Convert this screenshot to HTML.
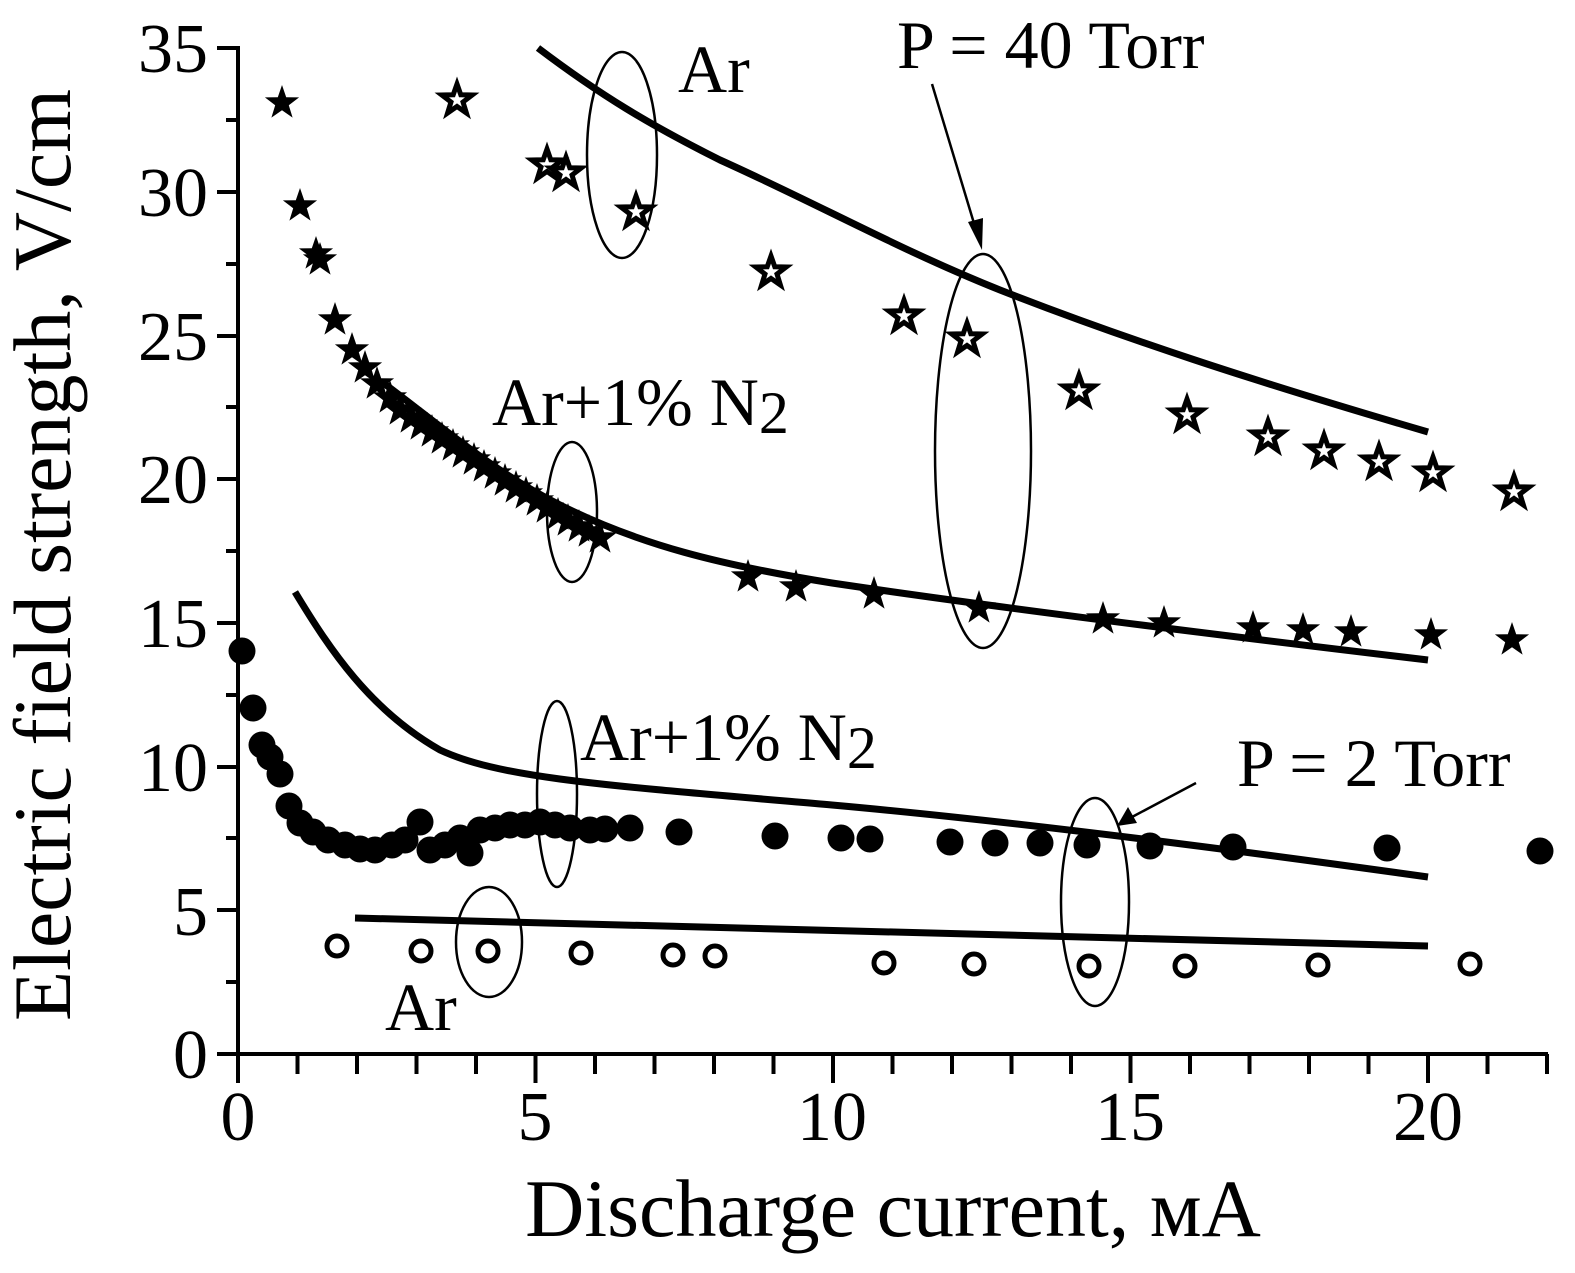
<!DOCTYPE html>
<html><head><meta charset="utf-8"><style>html,body{margin:0;padding:0;background:#fff}svg{display:block}text{font-family:"Liberation Serif",serif;fill:#000}</style></head>
<body>
<svg width="1575" height="1273" viewBox="0 0 1575 1273" xmlns="http://www.w3.org/2000/svg">
<defs>
<path id="fs" d="M0,-18 L4.2,-5.8 L17.1,-5.6 L6.8,2.2 L10.6,14.6 L0,7.2 L-10.6,14.6 L-6.8,2.2 L-17.1,-5.6 L-4.2,-5.8Z" fill="#000"/>
<path id="os" d="M0,-16 L3.8,-5.2 L15.2,-5 L6,2 L9.4,13 L0,6.4 L-9.4,13 L-6,2 L-15.2,-5 L-3.8,-5.2Z" fill="#fff" stroke="#000" stroke-width="5"/>
<circle id="fc" r="13.5" fill="#000"/>
<circle id="oc" r="10" fill="#fff" stroke="#000" stroke-width="5"/>
</defs>
<g stroke="#000" stroke-width="4" fill="none">
<line x1="238" y1="46" x2="238" y2="1056"/>
<line x1="236" y1="1054" x2="1548" y2="1054"/>
<path d="M217,1054H238M226,982H238M217,910H238M226,838H238M217,767H238M226,695H238M217,623H238M226,551H238M217,479H238M226,407H238M217,336H238M226,264H238M217,192H238M226,120H238M217,48H238"/>
<path d="M238,1054V1083M297.5,1054V1074M357,1054V1074M416.5,1054V1074M476,1054V1074M535.5,1054V1083M595,1054V1074M654.5,1054V1074M714,1054V1074M773.5,1054V1074M833,1054V1083M892.5,1054V1074M952,1054V1074M1011.5,1054V1074M1071,1054V1074M1130.5,1054V1083M1190,1054V1074M1249.5,1054V1074M1309,1054V1074M1368.5,1054V1074M1428,1054V1083M1487.5,1054V1074M1547,1054V1074"/>
</g>
<g font-size="70" text-anchor="end">
<text x="208" y="1078">0</text><text x="208" y="935">5</text><text x="208" y="791">10</text><text x="208" y="647">15</text><text x="208" y="503">20</text><text x="208" y="360">25</text><text x="208" y="216">30</text><text x="208" y="72">35</text>
</g>
<g font-size="70" text-anchor="middle">
<text x="238" y="1140">0</text><text x="535" y="1140">5</text><text x="832" y="1140">10</text><text x="1130" y="1140">15</text><text x="1428" y="1140">20</text>
</g>
<text x="893" y="1236" font-size="82" text-anchor="middle">Discharge current, мА</text>
<text transform="translate(70,555) rotate(-90)" font-size="82" text-anchor="middle">Electric field strength, V/cm</text>
<g fill="none" stroke="#000" stroke-width="7">
<path d="M538,48 C600,95 650,125 720,160 C820,205 900,250 1000,290 C1120,337 1250,380 1428,432"/>
<path d="M382,382 C440,425 490,470 560,505 C640,545 720,565 832,583 C1000,608 1200,633 1428,660"/>
<path d="M295,592 C330,650 370,710 440,750 C500,778 600,785 832,805 C1000,820 1200,845 1428,877"/>
<path d="M355,918 L1428,946"/>
</g>
<g fill="none" stroke="#000" stroke-width="2.5">
<ellipse cx="622" cy="155" rx="35" ry="103"/>
<ellipse cx="983" cy="451" rx="48" ry="197"/>
<ellipse cx="572" cy="512" rx="25" ry="70"/>
<ellipse cx="557" cy="794" rx="20" ry="93"/>
<ellipse cx="1095" cy="902" rx="34" ry="104"/>
<ellipse cx="489" cy="942" rx="33" ry="55"/>
<line x1="932" y1="84" x2="976" y2="230"/>
<line x1="1196" y1="783" x2="1132" y2="817"/>
</g>
<path d="M982,250 L968,222 L983,218Z" fill="#000"/>
<path d="M1117,826 L1128,807 L1137,823Z" fill="#000"/>
<g font-size="68">
<text x="678" y="92">Ar</text>
<text x="897" y="68">P = 40 Torr</text>
<text x="492" y="425">Ar+1% N<tspan font-size="60" dy="8">2</tspan></text>
<text x="580" y="760">Ar+1% N<tspan font-size="60" dy="8">2</tspan></text>
<text x="1237" y="786">P = 2 Torr</text>
<text x="385" y="1030">Ar</text>
</g>
<g>
<use href="#os" x="457" y="100"/><use href="#os" x="547" y="165"/><use href="#os" x="566" y="173"/><use href="#os" x="636" y="212"/><use href="#os" x="771" y="272"/><use href="#os" x="904" y="316"/><use href="#os" x="967" y="339"/><use href="#os" x="1079" y="391"/><use href="#os" x="1187" y="415"/><use href="#os" x="1268" y="437"/><use href="#os" x="1324" y="451"/><use href="#os" x="1379" y="462"/><use href="#os" x="1433" y="473"/><use href="#os" x="1514" y="492"/>
<use href="#fs" x="282" y="103"/><use href="#fs" x="300" y="206"/><use href="#fs" x="316" y="254"/><use href="#fs" x="320" y="260"/><use href="#fs" x="335" y="320"/><use href="#fs" x="352" y="350"/><use href="#fs" x="365" y="368"/><use href="#fs" x="377" y="384"/><use href="#fs" x="390" y="398"/>
<use href="#fs" x="400" y="410"/><use href="#fs" x="411" y="418"/><use href="#fs" x="421" y="425"/><use href="#fs" x="432" y="432"/><use href="#fs" x="442" y="439"/><use href="#fs" x="453" y="446"/><use href="#fs" x="463" y="453"/><use href="#fs" x="474" y="460"/><use href="#fs" x="484" y="467"/><use href="#fs" x="495" y="474"/><use href="#fs" x="505" y="481"/><use href="#fs" x="516" y="488"/><use href="#fs" x="526" y="494"/><use href="#fs" x="537" y="501"/><use href="#fs" x="547" y="508"/><use href="#fs" x="558" y="515"/><use href="#fs" x="568" y="521"/><use href="#fs" x="579" y="527"/><use href="#fs" x="589" y="532"/><use href="#fs" x="600" y="538"/>
<use href="#fs" x="748" y="577"/><use href="#fs" x="796" y="587"/><use href="#fs" x="874" y="594"/><use href="#fs" x="979" y="608"/><use href="#fs" x="1103" y="619"/><use href="#fs" x="1164" y="623"/><use href="#fs" x="1253" y="628"/><use href="#fs" x="1303" y="630"/><use href="#fs" x="1351" y="632"/><use href="#fs" x="1431" y="635"/><use href="#fs" x="1512" y="640"/>
<use href="#fc" x="242" y="651"/><use href="#fc" x="253" y="708"/><use href="#fc" x="262" y="745"/><use href="#fc" x="270" y="757"/><use href="#fc" x="280" y="774"/><use href="#fc" x="289" y="806"/><use href="#fc" x="300" y="823"/><use href="#fc" x="313" y="832"/><use href="#fc" x="328" y="840"/><use href="#fc" x="345" y="845"/><use href="#fc" x="360" y="849"/><use href="#fc" x="375" y="850"/><use href="#fc" x="392" y="845"/><use href="#fc" x="405" y="840"/><use href="#fc" x="420" y="822"/><use href="#fc" x="430" y="850"/><use href="#fc" x="445" y="845"/><use href="#fc" x="460" y="838"/><use href="#fc" x="470" y="853"/><use href="#fc" x="480" y="830"/><use href="#fc" x="495" y="828"/><use href="#fc" x="510" y="825"/><use href="#fc" x="525" y="825"/><use href="#fc" x="540" y="822"/><use href="#fc" x="555" y="825"/><use href="#fc" x="570" y="828"/><use href="#fc" x="590" y="830"/><use href="#fc" x="605" y="829"/><use href="#fc" x="630" y="828"/><use href="#fc" x="679" y="832"/><use href="#fc" x="775" y="836"/><use href="#fc" x="841" y="838"/><use href="#fc" x="870" y="839"/><use href="#fc" x="950" y="842"/><use href="#fc" x="995" y="843"/><use href="#fc" x="1040" y="843"/><use href="#fc" x="1087" y="845"/><use href="#fc" x="1150" y="846"/><use href="#fc" x="1233" y="847"/><use href="#fc" x="1387" y="848"/><use href="#fc" x="1540" y="851"/>
<use href="#oc" x="337" y="946"/><use href="#oc" x="421" y="951"/><use href="#oc" x="488" y="951"/><use href="#oc" x="581" y="953"/><use href="#oc" x="673" y="955"/><use href="#oc" x="715" y="956"/><use href="#oc" x="884" y="963"/><use href="#oc" x="974" y="964"/><use href="#oc" x="1089" y="966"/><use href="#oc" x="1185" y="966"/><use href="#oc" x="1318" y="965"/><use href="#oc" x="1470" y="964"/>
</g>
</svg>
</body></html>
